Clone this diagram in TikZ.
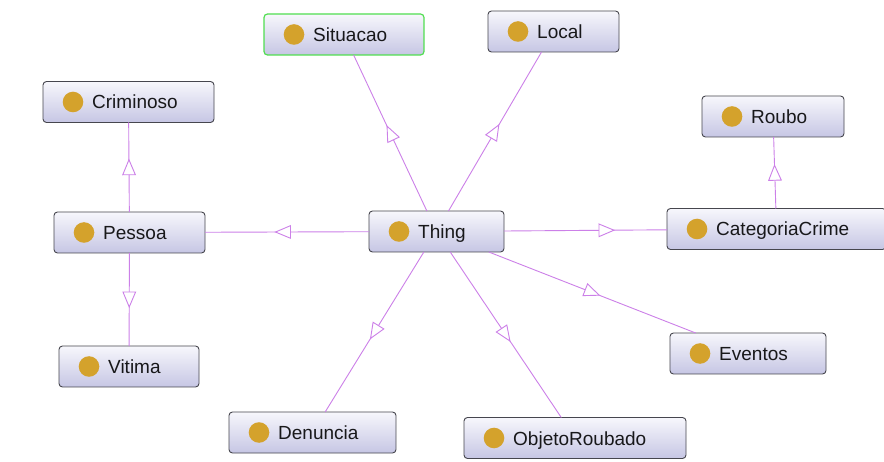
\documentclass[tikz,border=0pt]{standalone}
\usepackage{fontspec}
\setmainfont{Liberation Sans}
\usetikzlibrary{decorations.markings}

\definecolor{boxline}{RGB}{70,70,78}
\definecolor{boxtop}{RGB}{247,247,252}
\definecolor{boxbottom}{RGB}{198,198,228}
\definecolor{dotcol}{RGB}{212,162,44}
\definecolor{linkcol}{RGB}{204,128,232}
\definecolor{selgreen}{RGB}{80,222,80}
\definecolor{labelcol}{RGB}{24,24,26}

\tikzset{
  clsbox/.style={draw=boxline, line width=0.9pt, rounded corners=3.5pt,
    top color=boxtop, bottom color=boxbottom, minimum height=41pt,
    inner sep=0pt, outer sep=0pt},
  selected/.style={draw=selgreen, line width=1.2pt},
  clslabel/.style={inner sep=0pt, text=labelcol,
    font=\fontsize{19}{23}\selectfont},
  linkline/.style={draw=linkcol, line width=0.9pt},
  linktip/.style={draw=linkcol, line width=0.9pt, fill=white, line join=miter},
}

% one class box: [extra style] name, x, y, width, label
\newcommand\owlclass[6][]{%
  \node[clsbox, minimum width=#5pt, #1] (#2) at (#3,#4) {};
  \fill[dotcol] ([xshift=30pt]#2.west) circle (10.3pt);
  \node[clslabel, anchor=base west] (#2-label)
    at ([xshift=49pt, yshift=-7pt]#2.west) {#6};
}

% subclass link: line between the boxes, open triangle centred on the
% midpoint of the centre-to-centre segment, pointing to the child
\newcommand\owllink[2]{%
  \draw[linkline] (#1) -- (#2);
  \path[decoration={markings, mark=at position 0.5 with {
      \draw[linktip] (7.5pt,0pt) -- (-7.5pt,6.3pt) -- (-7.5pt,-6.3pt) -- cycle;}},
    decorate] (#1.center) -- (#2.center);
}

\begin{document}
\begin{tikzpicture}[x=1pt, y=-1pt]
  \useasboundingbox[fill=white] (0,0) rectangle (884,462);

  \owlclass{thing}{436.5}{231.5}{135}{Thing}
  \owlclass[selected]{situacao}{344}{34.5}{160}{Situacao}
  \owlclass{local}{553.5}{31.5}{131}{Local}
  \owlclass{criminoso}{128.5}{102}{171}{Criminoso}
  \owlclass{roubo}{773}{116.5}{142}{Roubo}
  \owlclass{pessoa}{129.5}{232.5}{151}{Pessoa}
  \owlclass{categoria}{776.5}{229}{219}{CategoriaCrime}
  \owlclass{vitima}{129}{366.5}{140}{Vitima}
  \owlclass{eventos}{748}{353.5}{156}{Eventos}
  \owlclass{denuncia}{312.5}{432.5}{167}{Denuncia}
  \owlclass{objeto}{575}{438}{222}{ObjetoRoubado}

  \owllink{thing}{situacao}
  \owllink{thing}{local}
  \owllink{thing}{pessoa}
  \owllink{thing}{categoria}
  \owllink{thing}{eventos}
  \owllink{thing}{denuncia}
  \owllink{thing}{objeto}
  \owllink{pessoa}{criminoso}
  \owllink{pessoa}{vitima}
  \owllink{categoria}{roubo}
\end{tikzpicture}
\end{document}
